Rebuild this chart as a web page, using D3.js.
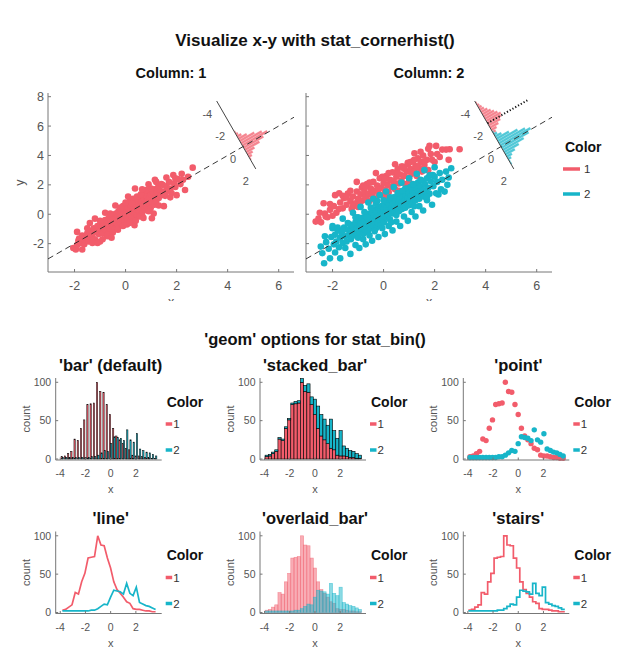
<!DOCTYPE html>
<html><head><meta charset="utf-8">
<script src="https://cdn.jsdelivr.net/npm/d3@7"></script>
<style>body{margin:0;background:#fff}svg{font-family:"Liberation Sans",Arial,Helvetica,sans-serif}</style>
</head><body>
<svg id="c" width="636" height="665"></svg>
<script>
// ---------------- DATA ----------------
const colorLabels = ["1", "2"];
const colors = ["#F25C6B", "#17B5C9"];

// stat_bin (bottom panels): bin centers and counts per color
const binCenters = [-3.830,-3.575,-3.320,-3.065,-2.810,-2.555,-2.300,-2.045,-1.790,-1.535,-1.280,-1.025,-0.770,-0.515,-0.260,-0.005,0.250,0.505,0.760,1.015,1.270,1.525,1.780,2.035,2.290,2.545,2.800,3.055,3.310,3.565];
const countsColor1 = [3,4,7,10,26,24,40,51,71,72,73,100,88,87,71,58,40,30,25,20,14,12,5,4,4,3,2,2,1,1];
const countsColor2 = [2,2,2,2,2,2,2,2,2,3,3,5,8,11,10,20,29,28,27,24,38,25,22,33,13,11,9,8,6,4];
const binWidth = 0.255;

// scatter (top panels): [x, y]
const scatterCol1 = [[-2.05,-2.30],[-1.95,-2.40],[-1.90,-2.10],[-1.85,-1.80],[-1.82,-1.65],[-1.75,-1.95],[-1.70,-1.45],[-1.62,-2.05],[-1.60,-1.75],[-1.55,-1.60],[-1.50,-1.30],[-1.45,-1.85],[-1.40,-1.15],[-1.35,-1.55],[-1.30,-1.40],[-1.25,-0.95],[-1.20,-1.70],[-1.15,-1.20],[-1.10,-0.80],[-1.05,-1.35],[-1.00,-1.85],[-0.98,-0.70],[-0.95,-1.10],[-0.90,-0.55],[-0.88,-1.30],[-0.85,-0.95],[-0.80,-0.40],[-0.78,-1.05],[-0.75,-0.75],[-0.72,-1.50],[-0.70,-0.60],[-0.66,-0.25],[-0.64,-0.90],[-0.60,-0.50],[-0.58,-1.15],[-0.55,-0.70],[-0.52,-0.30],[-0.50,-0.85],[-0.48,-0.10],[-0.45,-0.55],[-0.42,-1.00],[-0.40,-0.35],[-0.38,0.05],[-0.35,-0.60],[-0.32,-0.20],[-0.30,-0.80],[-0.28,0.20],[-0.25,-0.40],[-0.22,0.35],[-0.20,-0.05],[-0.18,-0.65],[-0.15,0.10],[-0.12,-0.30],[-0.10,0.55],[-0.08,0.15],[-0.05,-0.45],[-0.03,0.30],[0.00,-0.10],[0.02,0.70],[0.05,0.20],[0.07,-0.25],[0.10,0.45],[0.12,0.05],[0.15,0.85],[0.17,-0.05],[0.20,0.35],[0.22,0.60],[0.25,-0.20],[0.28,0.25],[0.30,1.05],[0.33,0.50],[0.35,0.10],[0.37,1.75],[0.40,0.75],[0.43,0.30],[0.45,-0.10],[0.48,0.95],[0.50,0.55],[0.53,0.20],[0.55,1.20],[0.58,0.70],[0.60,0.35],[0.63,0.90],[0.65,0.05],[0.68,1.40],[0.70,0.60],[0.73,1.00],[0.75,0.30],[0.78,0.80],[0.80,1.25],[0.83,0.55],[0.85,1.60],[0.88,0.95],[0.90,2.04],[0.93,0.70],[0.95,1.15],[0.98,0.40],[1.00,1.35],[1.03,-0.27],[1.05,0.85],[1.08,1.50],[1.10,1.05],[1.13,0.65],[1.15,1.70],[1.18,1.20],[1.20,0.90],[1.25,1.45],[1.28,1.85],[1.30,1.10],[1.35,1.60],[1.40,1.30],[1.45,2.00],[1.50,1.55],[1.55,1.25],[1.60,1.90],[1.65,1.60],[1.70,2.20],[1.75,1.75],[1.80,1.45],[1.87,2.67],[1.90,2.10],[1.95,1.85],[2.05,2.40],[2.15,2.05],[2.25,2.35],[2.33,1.65],[2.45,2.55],[2.63,3.17],
[-1.90,-1.20],[-1.70,-2.40],[-1.50,-0.95],[-1.30,-1.95],[-1.20,-0.30],[-1.00,-0.45],[-0.90,-1.70],[-0.80,0.10],[-0.70,-1.40],[-0.60,0.05],[-0.50,-1.25],[-0.40,0.60],[-0.30,-1.05],[-0.20,0.45],[-0.10,-0.80],[0.00,0.80],[0.05,-0.70],[0.10,1.20],[0.20,-0.50],[0.25,0.75],[0.35,-0.75],[0.45,1.20],[0.55,-0.15],[0.60,1.35],[0.70,-0.25],[0.80,1.65],[0.90,0.20],[1.00,1.75],[1.10,0.05],[1.20,2.20],[1.30,0.60],[1.40,2.05],[1.50,0.55],[1.60,2.50],[1.75,1.15],[1.95,2.45],[2.00,1.30],[2.20,2.75],[-1.40,-0.60],[-0.55,-1.60],[0.15,-0.60],[0.65,1.70],[-1.10,-1.95],[0.40,-0.45],[1.15,2.35]];

const scatterCol2Color1 = [[-2.66,-0.50],[-2.55,-0.30],[-2.45,-0.55],[-2.30,0.05],[-2.27,-0.16],[-2.20,-0.20],[-2.10,0.30],[-1.95,0.55],[-1.85,0.10],[-1.74,1.43],[-1.70,0.80],[-1.60,0.40],[-1.55,1.10],[-1.45,0.65],[-1.40,1.40],[-1.30,0.90],[-1.25,0.35],[-1.20,1.20],[-1.10,0.75],[-1.05,1.55],[-1.00,1.05],[-0.95,0.60],[-0.90,1.35],[-0.85,1.80],[-0.80,0.95],[-0.75,1.50],[-0.70,1.15],[-0.65,2.05],[-0.60,1.40],[-0.55,0.90],[-0.50,1.75],[-0.45,1.25],[-0.40,2.20],[-0.35,1.60],[-0.30,1.05],[-0.25,1.95],[-0.20,1.40],[-0.15,2.45],[-0.10,1.80],[-0.05,1.30],[0.00,2.10],[0.05,1.65],[0.10,2.60],[0.15,2.00],[0.20,1.50],[0.25,2.35],[0.30,1.85],[0.35,2.85],[0.40,2.20],[0.45,1.70],[0.50,2.55],[0.55,3.05],[0.60,2.10],[0.65,2.70],[0.70,2.30],[0.75,3.25],[0.80,2.60],[0.85,2.05],[0.90,2.90],[0.95,3.40],[1.00,2.50],[1.05,3.10],[1.10,2.75],[1.15,3.60],[1.20,2.95],[1.21,4.15],[1.25,3.30],[1.30,2.60],[1.35,3.80],[1.40,3.15],[1.45,3.55],[1.50,2.90],[1.55,4.00],[1.60,3.35],[1.70,3.70],[1.75,3.00],[1.80,4.65],[1.85,4.10],[2.00,3.55],[2.06,4.65],[2.20,3.90],[2.45,4.40],[2.55,3.70],[2.59,4.42],[2.98,4.42],
[-2.50,0.10],[-2.35,0.75],[-2.10,0.70],[-1.90,1.30],[-1.75,0.35],[-1.60,1.25],[-1.45,1.15],[-1.30,1.60],[-1.20,0.55],[-1.05,2.20],[-0.90,0.85],[-0.80,1.95],[-0.70,1.85],[-0.55,2.15],[-0.45,1.35],[-0.30,2.80],[-0.20,1.70],[-0.05,2.55],[0.05,2.40],[0.20,2.80],[0.30,2.30],[0.45,3.40],[0.55,2.75],[0.70,3.25],[0.80,3.10],[0.95,3.50],[1.05,3.55],[1.20,3.70],[1.30,3.25],[1.45,4.25],[1.60,3.60],[1.75,4.45],[1.90,3.70],[2.10,4.10],[2.30,4.40],[-1.00,0.50],[0.10,1.20],[1.00,2.20],[-2.00,-0.10],[0.60,1.60]];

const scatterCol2Color2 = [[-2.46,-2.20],[-2.40,-2.65],[-2.33,-3.33],[-2.25,-1.90],[-2.15,-2.35],[-2.05,-1.55],[-2.00,-0.95],[-1.95,-2.05],[-1.90,-1.40],[-1.85,-1.85],[-1.80,-1.10],[-1.75,-2.25],[-1.70,-1.60],[-1.65,-1.25],[-1.60,-1.95],[-1.55,-0.90],[-1.50,-1.50],[-1.45,-1.85],[-1.40,-1.05],[-1.35,-1.40],[-1.30,-0.70],[-1.28,-1.70],[-1.25,-1.15],[-1.20,-0.85],[-1.15,-1.45],[-1.10,-0.55],[-1.08,-1.20],[-1.05,-0.95],[-1.00,-1.60],[-0.98,-0.40],[-0.95,-0.80],[-0.92,-1.25],[-0.90,-0.60],[-0.86,-1.00],[-0.83,-0.25],[-0.80,-1.35],[-0.78,-0.70],[-0.75,-0.45],[-0.72,-1.05],[-0.70,-0.15],[-0.67,-0.85],[-0.64,-0.50],[-0.62,-1.20],[-0.60,-0.30],[-0.57,-0.75],[-0.55,0.05],[-0.52,-0.95],[-0.50,-0.40],[-0.48,-0.65],[-0.45,0.10],[-0.42,-0.25],[-0.40,-0.80],[-0.38,-0.05],[-0.35,-0.50],[-0.32,0.30],[-0.30,-0.95],[-0.28,-0.20],[-0.25,0.15],[-0.22,-0.60],[-0.20,0.45],[-0.18,-0.10],[-0.15,-0.40],[-0.12,0.25],[-0.10,-0.75],[-0.08,0.55],[-0.05,0.00],[-0.03,-0.30],[0.00,0.35],[0.02,-0.55],[0.05,0.65],[0.07,0.10],[0.10,-0.20],[0.12,0.45],[0.15,0.85],[0.17,-0.05],[0.20,0.30],[0.22,0.65],[0.25,-0.35],[0.27,0.15],[0.30,0.95],[0.32,0.45],[0.35,0.05],[0.37,0.70],[0.40,1.15],[0.42,0.25],[0.45,0.55],[0.48,0.90],[0.50,-0.05],[0.52,0.40],[0.55,1.25],[0.58,0.75],[0.60,0.20],[0.62,1.00],[0.65,0.55],[0.68,1.45],[0.70,0.85],[0.72,0.35],[0.75,1.15],[0.78,0.65],[0.80,1.55],[0.83,0.95],[0.85,0.45],[0.88,1.30],[0.90,0.80],[0.93,1.75],[0.95,1.10],[0.98,0.60],[1.00,1.45],[1.03,0.95],[1.05,1.85],[1.08,1.25],[1.10,0.70],[1.13,1.60],[1.15,1.05],[1.18,2.00],[1.20,1.40],[1.25,0.95],[1.28,1.80],[1.30,1.25],[1.35,2.15],[1.38,1.55],[1.40,1.05],[1.45,1.90],[1.48,1.35],[1.50,2.30],[1.55,1.65],[1.58,1.20],[1.62,2.05],[1.65,1.50],[1.70,2.45],[1.75,1.80],[1.80,1.40],[1.85,2.25],[1.93,2.67],[1.95,1.90],[2.00,2.55],[2.06,1.43],[2.10,2.20],[2.20,2.80],[2.30,2.35],[2.39,1.54],[2.45,2.90],[2.55,2.50],[2.65,3.13],
[-2.30,-1.50],[-2.10,-3.00],[-2.00,-0.80],[-1.90,-2.60],[-1.80,-0.90],[-1.70,-3.00],[-1.60,-0.30],[-1.50,-2.30],[-1.40,-0.60],[-1.30,-2.70],[-1.20,0.10],[-1.10,-2.10],[-1.00,-0.20],[-0.95,-2.30],[-0.90,0.50],[-0.80,-1.70],[-0.75,0.15],[-0.70,-2.05],[-0.60,0.80],[-0.55,-1.45],[-0.50,0.45],[-0.45,-1.80],[-0.40,1.05],[-0.35,-1.15],[-0.30,0.70],[-0.20,-1.55],[-0.15,1.30],[-0.05,-0.95],[0.00,0.95],[0.05,-1.35],[0.10,1.55],[0.20,-0.80],[0.25,1.15],[0.35,-1.10],[0.40,1.85],[0.50,-0.50],[0.55,1.45],[0.65,-0.80],[0.70,2.15],[0.80,-0.15],[0.85,1.75],[0.95,-0.45],[1.00,2.45],[1.10,0.15],[1.15,2.05],[1.25,-0.15],[1.30,2.75],[1.40,0.55],[1.45,2.35],[1.55,0.25],[1.60,3.00],[1.70,0.95],[1.80,2.65],[1.90,0.65],[2.00,3.20],[2.15,1.35],[2.25,1.70],[2.50,2.00],[-0.65,-0.20],[0.30,-0.55],[1.20,0.55],[-1.60,-1.10],[1.70,1.20],[-0.25,0.90],[0.75,1.60],[-1.10,-0.20]];

// corner histograms of (x - y)
const cornerBinCenters = [-3.9,-3.7,-3.5,-3.3,-3.1,-2.9,-2.7,-2.5,-2.3,-2.1,-1.9,-1.7,-1.5,-1.3,-1.1,-0.9,-0.7,-0.5,-0.3,-0.1,0.1,0.3,0.5,0.7,0.9,1.1,1.3,1.5,1.7,1.9];
const cornerCol1Color1 = [0,0,0,0,0,0,0,0,0,0,0,0,0,1,2,4,8,14,20,24,19,14,8,5,3,1,0,0,0,0];
const cornerCol2Color1 = [1,2,3,4,6,8,10,12,14,13,11,8,5,3,1,0,0,0,0,0,0,0,0,0,0,0,0,0,0,0];
const cornerCol2Color2 = [0,0,0,0,0,0,0,0,0,0,0,0,0,1,3,6,12,19,25,29,26,20,14,9,5,3,1,1,0,0];
const cornerMeanCol2Color1 = -2.1;
const cornerBinWidth = 0.2;

// ticks and texts
const topXTicks = [-2,0,2,4,6];
const topYTicks = [-2,0,2,4,6,8];
const cornerTicks = [-4,-2,0,2];
const botXTicks = [-4,-2,0,2];
const botYTicks = [0,50,100];
const mainTitle = "Visualize x-y with stat_cornerhist()";
const subTitle = "'geom' options for stat_bin()";
const columnTitles = ["Column: 1","Column: 2"];
const geomTitles = ["'bar' (default)","'stacked_bar'","'point'","'line'","'overlaid_bar'","'stairs'"];

// ---------------- DRAW ----------------
const svg = d3.select("#c");
const AX = "#777", TK = "#555";
svg.append("rect").attr("width",636).attr("height",665).attr("fill","#fff");

svg.append("text").attr("x",315).attr("y",46).attr("text-anchor","middle")
  .attr("font-weight","bold").attr("font-size",17).attr("fill","#111").text(mainTitle);

// ---- top panels ----
const yTop = d3.scaleLinear([-3.93, 8.25], [272, 93]);
const topPanels = [
  {x: d3.scaleLinear([-3.04, 6.6], [48, 294]), title: columnTitles[0], sets: [[0, scatterCol1]], corner: [[0, cornerCol1Color1]], dotted: null, ylab: true},
  {x: d3.scaleLinear([-3.04, 6.6], [306, 552]), title: columnTitles[1], sets: [[0, scatterCol2Color1],[1, scatterCol2Color2]], corner: [[0, cornerCol2Color1],[1, cornerCol2Color2]], dotted: cornerMeanCol2Color1, ylab: false}
];
const cornerDist = d3.scaleLinear([0,1],[0,12.85]);
const cornerLen = d3.scaleLinear([0,10],[0,12]);

svg.append("defs").append("clipPath").attr("id","xlabclip").append("rect")
  .attr("x",0).attr("y",0).attr("width",636).attr("height",301);

topPanels.forEach(P => {
  const xs = P.x, [x0,x1] = xs.range(), [yb, yt] = yTop.range();
  const g = svg.append("g");
  g.append("text").attr("x",(x0+x1)/2).attr("y",77.5).attr("text-anchor","middle")
    .attr("font-weight","bold").attr("font-size",14.5).attr("fill","#111").text(P.title);
  // axes
  g.append("line").attr("x1",x0).attr("x2",x0).attr("y1",yt).attr("y2",yb).attr("stroke",AX);
  g.append("line").attr("x1",x0).attr("x2",x1).attr("y1",yb).attr("y2",yb).attr("stroke",AX);
  topXTicks.forEach(t => {
    g.append("line").attr("x1",xs(t)).attr("x2",xs(t)).attr("y1",yb).attr("y2",yb-3).attr("stroke",AX);
    g.append("text").attr("x",xs(t)).attr("y",289.5).attr("text-anchor","middle").attr("font-size",12.5).attr("fill",TK).text(t);
  });
  topYTicks.forEach(t => {
    g.append("line").attr("x1",x0).attr("x2",x0+3).attr("y1",yTop(t)).attr("y2",yTop(t)).attr("stroke",AX);
    if (P.ylab) g.append("text").attr("x",x0-4).attr("y",yTop(t)).attr("dy","0.36em").attr("text-anchor","end").attr("font-size",12.5).attr("fill",TK).text(t);
  });
  if (P.ylab) g.append("text").attr("transform",`translate(24,${(yt+yb)/2}) rotate(-90)`).attr("text-anchor","middle").attr("font-size",12.5).attr("fill",TK).text("y");
  g.append("text").attr("x",(x0+x1)/2).attr("y",305.5).attr("text-anchor","middle").attr("font-size",12.5).attr("fill",TK).attr("clip-path","url(#xlabclip)").text("x");
  // points
  P.sets.forEach(([ci, pts]) => {
    g.append("g").selectAll("circle").data(pts).join("circle")
      .attr("cx",d=>xs(d[0])).attr("cy",d=>yTop(d[1])).attr("r",3.3).attr("fill",colors[ci]);
  });
  // corner histogram geometry
  const ox = xs(4.6), oy = yTop(4.6);
  const ux0 = xs(1)-xs(0), uy0 = yTop(1)-yTop(0), un = Math.hypot(ux0,uy0);
  const u = [ux0/un, uy0/un], p = [-u[1], u[0]];
  const pt = (v, L) => [ox + cornerDist(v)*p[0] + L*u[0], oy + cornerDist(v)*p[1] + L*u[1]];
  P.corner.forEach(([ci, counts]) => {
    g.append("g").selectAll("path").data(cornerBinCenters.map((c,i)=>({c, n: counts[i]})).filter(d=>d.n>0)).join("path")
      .attr("d", d => {
        const a = pt(d.c-cornerBinWidth/2,0), b = pt(d.c+cornerBinWidth/2,0),
              c2 = pt(d.c+cornerBinWidth/2,cornerLen(d.n)), d2 = pt(d.c-cornerBinWidth/2,cornerLen(d.n));
        return `M${a}L${b}L${c2}L${d2}Z`;
      })
      .attr("fill",colors[ci]).attr("fill-opacity",0.75).attr("stroke","#fff").attr("stroke-opacity",0.35).attr("stroke-width",0.4);
  });
  // y = x dashed line
  const dom = xs.domain();
  g.append("line").attr("x1",xs(dom[0])).attr("y1",yTop(dom[0])).attr("x2",xs(dom[1])).attr("y2",yTop(dom[1]))
    .attr("stroke","#222").attr("stroke-width",0.9).attr("stroke-dasharray","6,4");
  // corner axis
  const A = pt(-4.1,0), B = pt(2.0,0);
  g.append("line").attr("x1",A[0]).attr("y1",A[1]).attr("x2",B[0]).attr("y2",B[1]).attr("stroke","#444").attr("stroke-width",1);
  cornerTicks.forEach(t => {
    const q = pt(t,0);
    g.append("text").attr("x",q[0]-10).attr("y",q[1]+12).attr("dy","0.36em").attr("text-anchor","middle").attr("font-size",11).attr("fill",TK).text(t);
  });
  if (P.dotted !== null) {
    const s = pt(P.dotted,0), e = pt(P.dotted,48);
    g.append("line").attr("x1",s[0]).attr("y1",s[1]).attr("x2",e[0]).attr("y2",e[1])
      .attr("stroke","#111").attr("stroke-width",2).attr("stroke-dasharray","1.2,2");
  }
});
// top legend
svg.append("text").attr("x",565).attr("y",152).attr("font-weight","bold").attr("font-size",14).attr("fill","#111").text("Color");
colorLabels.forEach((l,i) => {
  const yy = 169 + i*25;
  svg.append("line").attr("x1",563).attr("x2",580).attr("y1",yy).attr("y2",yy).attr("stroke",colors[i]).attr("stroke-width",3.5);
  svg.append("text").attr("x",584).attr("y",yy).attr("dy","0.36em").attr("font-size",11.5).attr("fill","#333").text(l);
});

// ---- bottom panels ----
svg.append("text").attr("x",315).attr("y",345).attr("text-anchor","middle")
  .attr("font-weight","bold").attr("font-size",16.5).attr("fill","#111").text(subTitle);

const colX = [55.7, 260, 463.3], rowY = [378, 531.5];
const geoms = ["bar","stacked_bar","point","line","overlaid_bar","stairs"];
const series = [countsColor1, countsColor2];

geoms.forEach((geom, k) => {
  const ox = colX[k%3], oy = rowY[Math.floor(k/3)];
  const xs = d3.scaleLinear([-4.36, 4.05], [ox, ox+106]);
  const ys = d3.scaleLinear([-1.3, 105.6], [oy+82, oy]);
  const g = svg.append("g");
  g.append("text").attr("x",ox+55).attr("y",oy-7.5).attr("text-anchor","middle")
    .attr("font-weight","bold").attr("font-size",16.5).attr("fill","#111").text(geomTitles[k]);
  const base = ys(0);
  if (geom === "bar") {
    series.forEach((cnt, ci) => {
      g.append("g").selectAll("rect").data(binCenters.map((c,i)=>({c,n:cnt[i]}))).join("rect")
        .attr("x", d => xs(d.c - binWidth*0.4 + ci*binWidth*0.4)).attr("width", xs(binWidth*0.4)-xs(0))
        .attr("y", d => ys(d.n)).attr("height", d => base - ys(d.n))
        .attr("fill", colors[ci]).attr("stroke","#000").attr("stroke-width",0.5);
    });
  } else if (geom === "stacked_bar") {
    series.forEach((cnt, ci) => {
      g.append("g").selectAll("rect").data(binCenters.map((c,i)=>({c, lo: ci ? countsColor1[i] : 0, n: cnt[i]}))).join("rect")
        .attr("x", d => xs(d.c - binWidth/2)).attr("width", xs(binWidth)-xs(0))
        .attr("y", d => ys(d.lo + d.n)).attr("height", d => ys(d.lo) - ys(d.lo + d.n))
        .attr("fill", colors[ci]).attr("stroke","#000").attr("stroke-width",0.6);
    });
  } else if (geom === "point") {
    series.forEach((cnt, ci) => {
      g.append("g").selectAll("circle").data(binCenters.map((c,i)=>({c,n:cnt[i]}))).join("circle")
        .attr("cx", d => xs(d.c)).attr("cy", d => ys(d.n)).attr("r", 2.7).attr("fill", colors[ci]);
    });
  } else if (geom === "line") {
    series.forEach((cnt, ci) => {
      g.append("path").datum(binCenters.map((c,i)=>[c,cnt[i]]))
        .attr("d", d3.line().x(d=>xs(d[0])).y(d=>ys(d[1])))
        .attr("fill","none").attr("stroke",colors[ci]).attr("stroke-width",1.7);
    });
  } else if (geom === "overlaid_bar") {
    series.forEach((cnt, ci) => {
      g.append("g").selectAll("rect").data(binCenters.map((c,i)=>({c,n:cnt[i]}))).join("rect")
        .attr("x", d => xs(d.c - binWidth/2)).attr("width", xs(binWidth)-xs(0))
        .attr("y", d => ys(d.n)).attr("height", d => base - ys(d.n))
        .attr("fill", colors[ci]).attr("fill-opacity",0.5).attr("stroke",colors[ci]).attr("stroke-opacity",0.6).attr("stroke-width",0.6);
    });
  } else if (geom === "stairs") {
    series.forEach((cnt, ci) => {
      const pts = binCenters.map((c,i)=>[c - binWidth/2, cnt[i]]);
      pts.push([binCenters[binCenters.length-1] + binWidth/2, cnt[cnt.length-1]]);
      g.append("path").datum(pts)
        .attr("d", d3.line().curve(d3.curveStepAfter).x(d=>xs(d[0])).y(d=>ys(d[1])))
        .attr("fill","none").attr("stroke",colors[ci]).attr("stroke-width",1.7);
    });
  }
  // axes
  const yb = oy+82;
  g.append("line").attr("x1",ox).attr("x2",ox).attr("y1",oy).attr("y2",yb).attr("stroke",AX);
  g.append("line").attr("x1",ox).attr("x2",ox+106).attr("y1",yb).attr("y2",yb).attr("stroke",AX);
  botXTicks.forEach(t => {
    g.append("line").attr("x1",xs(t)).attr("x2",xs(t)).attr("y1",yb).attr("y2",yb-2.5).attr("stroke",AX);
    g.append("text").attr("x",xs(t)).attr("y",yb+17).attr("text-anchor","middle").attr("font-size",10.5).attr("fill",TK).text(t);
  });
  botYTicks.forEach(t => {
    g.append("line").attr("x1",ox).attr("x2",ox+2.5).attr("y1",ys(t)).attr("y2",ys(t)).attr("stroke",AX);
    g.append("text").attr("x",ox-4.5).attr("y",ys(t)).attr("dy","0.36em").attr("text-anchor","end").attr("font-size",10.5).attr("fill",TK).text(t);
  });
  g.append("text").attr("x",ox+55).attr("y",yb+33).attr("text-anchor","middle").attr("font-size",11).attr("fill",TK).text("x");
  g.append("text").attr("transform",`translate(${ox-30},${oy+41}) rotate(-90)`).attr("dy","0.36em").attr("text-anchor","middle").attr("font-size",11).attr("fill",TK).text("count");
  // legend
  g.append("text").attr("x",ox+111).attr("y",oy+28.5).attr("font-weight","bold").attr("font-size",14).attr("fill","#111").text("Color");
  colorLabels.forEach((l,i) => {
    const yy = oy + 46 + i*26;
    g.append("line").attr("x1",ox+110).attr("x2",ox+116.5).attr("y1",yy).attr("y2",yy).attr("stroke",colors[i]).attr("stroke-width",3.5);
    g.append("text").attr("x",ox+117.5).attr("y",yy).attr("dy","0.36em").attr("font-size",11.5).attr("fill","#333").text(l);
  });
});
</script>
</body></html>
